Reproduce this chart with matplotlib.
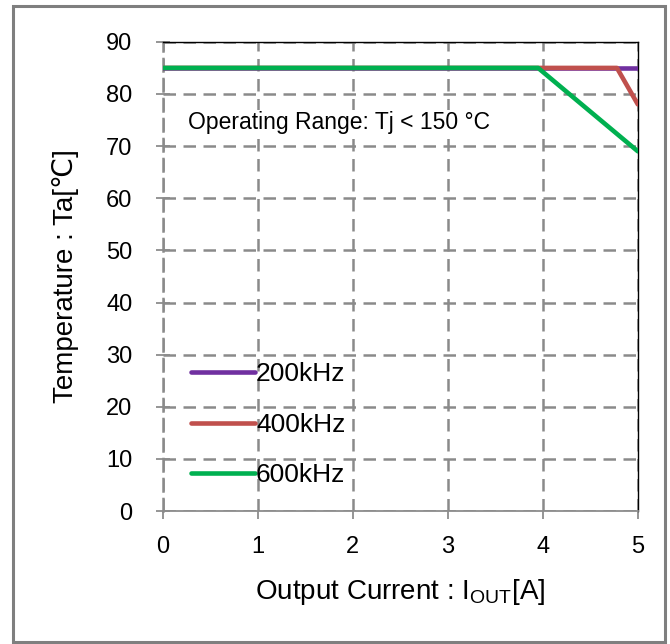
import matplotlib.pyplot as plt
from matplotlib.patches import Rectangle

plt.rcParams['font.family'] = ['Liberation Sans', 'DejaVu Sans']
plt.rcParams['mathtext.fontset'] = 'custom'
plt.rcParams['mathtext.rm'] = 'Liberation Sans'

# derating curves (output current [A] -> ambient temp [C])
i_200k = [0, 5]
t_200k = [85, 85]
i_400k = [0, 4.78, 5]
t_400k = [85, 85, 78]
i_600k = [0, 3.95, 5]
t_600k = [85, 85, 69]

labels = ['200kHz', '400kHz', '600kHz']
colors = ['#7030a0', '#c0504d', '#00b050']

fig = plt.figure(figsize=(6.7, 6.44), dpi=100)
ax = fig.add_axes([0.243, 0.2065, 0.709, 0.7285])

# outer frame
fig.patches.append(Rectangle((0.02, 0.003), 0.972, 0.987, transform=fig.transFigure,
                             fill=False, edgecolor='#7f7f7f', linewidth=2.2))

ax.plot(i_200k, t_200k, color=colors[0], lw=3.3, label=labels[0], solid_capstyle='round', zorder=3)
ax.plot(i_400k, t_400k, color=colors[1], lw=3.3, label=labels[1], solid_capstyle='round', zorder=4)
ax.plot(i_600k, t_600k, color=colors[2], lw=3.3, label=labels[2], solid_capstyle='round', zorder=5)

ax.set_xlim(0, 5)
ax.set_ylim(0, 90)
ax.set_xticks(range(0, 6))
ax.set_yticks(range(0, 91, 10))
ax.grid(True, color='#8a8a8a', linestyle=(0, (5, 3)), linewidth=1.8)
ax.set_axisbelow(True)

ax.tick_params(axis='x', direction='out', length=6, color='#8c8c8c', width=1.3, labelsize=17, pad=12)
ax.tick_params(axis='y', direction='inout', length=10, color='#8c8c8c', width=1.3, labelsize=17, pad=17)

ax.spines['left'].set_color('#8a8a8a')
ax.spines['left'].set_linestyle((0, (5, 3)))
ax.spines['left'].set_linewidth(1.8)
ax.spines['bottom'].set_color('#8c8c8c')
ax.spines['bottom'].set_linewidth(1.3)
ax.spines['top'].set_color('black')
ax.spines['top'].set_linewidth(1)
ax.spines['right'].set_color('black')
ax.spines['right'].set_linewidth(1)

ax.set_xlabel('Output Current : I$_{\\rm OUT}$[A]', fontsize=20, labelpad=14)
ax.set_ylabel('Temperature : Ta[℃]', fontsize=20, labelpad=19)

ax.text(0.27, 74.5, 'Operating Range: Tj < 150 °C', fontsize=16.5, va='center', ha='left',
        bbox=dict(facecolor='white', edgecolor='none', pad=1))

leg = ax.legend(loc='lower left', bbox_to_anchor=(0.01, 0.0), frameon=False, fontsize=19,
                handlelength=2.4, handletextpad=0.05, labelspacing=1.0)
for h in leg.get_lines():
    h.set_linewidth(3.3)

fig.savefig('out.png', dpi=100)
